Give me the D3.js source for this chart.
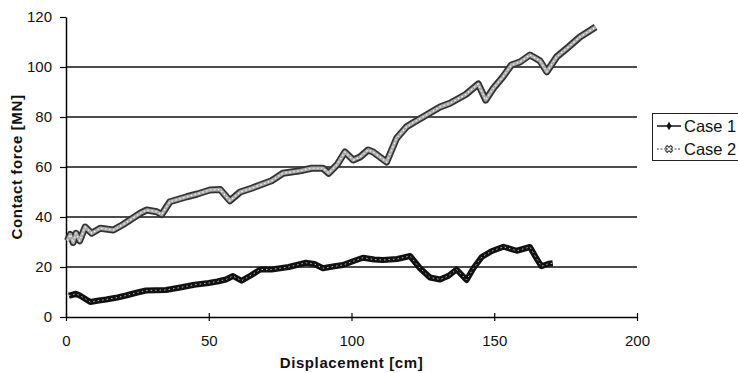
<!DOCTYPE html>
<html>
<head>
<meta charset="utf-8">
<script src="https://cdn.jsdelivr.net/npm/d3@7"></script>
<style>
  body { margin: 0; background: #fff; }
  svg { font-family: "Liberation Sans", Arial, sans-serif; }
</style>
</head>
<body>
<div id="chart"></div>
<script>
// values: [displacement cm, force MN]
const case1 = [
  [1, 8.5], [3.5, 9.3], [5, 8.5], [8.5, 6], [11, 6.5], [14, 7], [18, 7.8], [21, 8.6],
  [25, 9.8], [28, 10.6], [35, 10.8], [40, 11.8], [45, 12.9], [50, 13.6], [53, 14.2],
  [56, 15], [58.5, 16.4], [61.5, 14.5], [65, 16.8], [68, 19], [72, 19], [78, 20],
  [84, 21.7], [87, 21.2], [90, 19.5], [94, 20.3], [97, 20.8], [101, 22.5], [104, 23.7],
  [108, 23], [111, 22.8], [116, 23.2], [120.5, 24.4], [124, 19.5], [127.5, 15.8],
  [131, 15], [134, 16.5], [136.8, 19], [140.3, 14.8], [142.7, 19.5], [145.6, 24],
  [149, 26.3], [153.2, 28.1], [157.9, 26.5], [162.5, 28], [164.5, 24], [166.5, 20.3],
  [169, 21.3], [170.5, 21.5]
];
const case2 = [
  [0.5, 30.5], [1.5, 33], [2.5, 29.8], [3.5, 33.5], [4.8, 30.5], [6.7, 36], [9, 33.5],
  [12, 35.5], [16.6, 34.8], [20, 37], [22.4, 38.8], [26, 41.5], [28.3, 42.8], [31.8, 42.1],
  [33.5, 41], [36.4, 46.1], [42.3, 48.1], [46, 49.2], [50.4, 50.8], [54, 51], [57.4, 46.5],
  [61, 50], [65, 51.5], [68, 52.8], [72, 54.5], [76, 57.5], [82, 58.5], [86, 59.5],
  [90, 59.5], [92, 57.5], [95, 61], [97.7, 66], [100.6, 62.8], [103, 64], [105.8, 66.8],
  [107.6, 66], [112.3, 62], [115.8, 71.5], [119.3, 76.1], [122, 78], [125.2, 80.1],
  [128, 82], [131, 84], [134.5, 85.5], [140, 89], [144.4, 93.2], [147, 86.8], [149.7, 91.5],
  [153, 96], [156, 100.8], [159, 102], [162.5, 104.8], [166, 102.5], [168.4, 98.1],
  [171.9, 104.1], [176, 108], [180, 112], [185.5, 116]
];
const xTicks = [0, 50, 100, 150, 200];
const yTicks = [0, 20, 40, 60, 80, 100, 120];
const seriesNames = ["Case 1", "Case 2"];

const width = 738, height = 373;
const margin = { left: 66, right: 101, top: 17, bottom: 56 };

const svg = d3.select("#chart").append("svg")
  .attr("width", width)
  .attr("height", height);

const x = d3.scaleLinear().domain([0, 200]).range([margin.left, width - margin.right]);
const y = d3.scaleLinear().domain([0, 120]).range([height - margin.bottom, margin.top]);

// grid lines
svg.append("g")
  .selectAll("line")
  .data(yTicks.filter(t => t > 0 && t < 120))
  .enter()
  .append("line")
  .attr("x1", x(0)).attr("x2", x(200))
  .attr("y1", d => y(d)).attr("y2", d => y(d))
  .attr("stroke", "#111")
  .attr("stroke-width", 1.3);

// axes
const xAxis = svg.append("g")
  .attr("transform", `translate(0,${y(0)})`)
  .call(d3.axisBottom(x).tickValues(xTicks).tickSize(4).tickPadding(14).tickSizeOuter(0));
xAxis.selectAll(".tick line").attr("y1", -4);
const yAxis = svg.append("g")
  .attr("transform", `translate(${x(0)},0)`)
  .call(d3.axisLeft(y).tickValues(yTicks).tickSize(6).tickPadding(8).tickSizeOuter(0));

[xAxis, yAxis].forEach(a => {
  a.select(".domain").attr("stroke", "#000").attr("stroke-width", 1.5);
  a.selectAll(".tick line").attr("stroke", "#000").attr("stroke-width", 1.2);
  a.selectAll(".tick text")
    .attr("fill", "#111")
    .style("font-size", "15px")
    .style("font-family", "'Liberation Sans', Arial, sans-serif");
});

// series
const line = d3.line().x(d => x(d[0])).y(d => y(d[1])).curve(d3.curveLinear);

// Case 2: grey, hollow looking
svg.append("path").datum(case2)
  .attr("d", line).attr("fill", "none")
  .attr("stroke", "#333").attr("stroke-width", 7).attr("stroke-linejoin", "round");
svg.append("path").datum(case2)
  .attr("d", line).attr("fill", "none")
  .attr("stroke", "#aaa").attr("stroke-width", 3.5).attr("stroke-linejoin", "round");
svg.append("path").datum(case2)
  .attr("d", line).attr("fill", "none")
  .attr("stroke", "#f2f2f2").attr("stroke-width", 1.2).attr("stroke-dasharray", "1.5,2.5");

// Case 1: black thick
svg.append("path").datum(case1)
  .attr("d", line).attr("fill", "none")
  .attr("stroke", "#111").attr("stroke-width", 6).attr("stroke-linejoin", "round");
svg.append("path").datum(case1)
  .attr("d", line).attr("fill", "none")
  .attr("stroke", "#bbb").attr("stroke-width", 1).attr("stroke-dasharray", "1.5,3");

// axis titles
svg.append("text")
  .attr("x", (x(0) + x(200)) / 2)
  .attr("y", 368)
  .attr("text-anchor", "middle")
  .style("font-size", "15px")
  .style("font-weight", "bold")
  .style("letter-spacing", "0.6px")
  .attr("fill", "#111")
  .text("Displacement [cm]");

svg.append("text")
  .attr("transform", `translate(22,${(y(0) + y(120)) / 2}) rotate(-90)`)
  .attr("text-anchor", "middle")
  .style("font-size", "15px")
  .style("font-weight", "bold")
  .style("letter-spacing", "0.6px")
  .attr("fill", "#111")
  .text("Contact force [MN]");

// legend
const legend = svg.append("g").attr("transform", "translate(652,113)");
legend.append("rect")
  .attr("x", 0.5).attr("y", 0.5)
  .attr("width", 90).attr("height", 47)
  .attr("fill", "#fff").attr("stroke", "#222").attr("stroke-width", 1);

seriesNames.forEach((name, i) => {
  const cy = 13 + i * 23;
  const g = legend.append("g").attr("transform", `translate(0,${cy})`);
  g.append("line")
    .attr("x1", 5).attr("x2", 29).attr("y1", 0).attr("y2", 0)
    .attr("stroke", i === 0 ? "#111" : "#444")
    .attr("stroke-width", i === 0 ? 1.5 : 1.2)
    .attr("stroke-dasharray", i === 0 ? null : "2,1.5");
  if (i === 0) {
    g.append("path")
      .attr("d", d3.symbol().type(d3.symbolDiamond).size(22))
      .attr("transform", "translate(17,0)")
      .attr("fill", "#111");
  } else {
    g.append("path")
      .attr("d", d3.symbol().type(d3.symbolCross).size(30))
      .attr("transform", "translate(17,0) rotate(45)")
      .attr("fill", "#fff").attr("stroke", "#333").attr("stroke-width", 1);
  }
  g.append("text")
    .attr("x", 32).attr("y", 0).attr("dy", "0.36em")
    .style("font-size", "16.5px")
    .attr("fill", "#111")
    .text(name);
});
</script>
</body>
</html>
